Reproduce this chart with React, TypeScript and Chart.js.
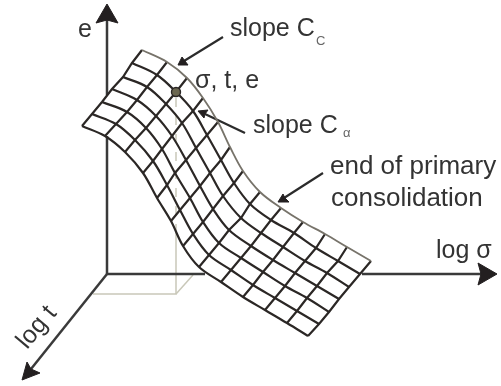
import React, { useEffect, useRef } from "react";
import { Chart, registerables } from "chart.js";

Chart.register(...registerables);

type P = [number, number];

// Surface grid: each list is one constant-log-sigma line, back edge to front edge.
const crossLines: P[][] = [
  [[142, 50], [132, 63], [123, 77], [112, 89], [102, 102], [92, 114], [82, 126]],
  [[167, 62], [157, 75], [147, 87], [137, 100], [127, 112], [116, 124], [105, 136]],
  [[187, 78], [176, 92], [166, 104], [156, 116], [146, 128], [135, 140], [125, 152]],
  [[203, 98], [193, 111], [182, 123], [172, 136], [162, 149], [153, 161], [143, 173]],
  [[218, 122], [207, 135], [196, 148], [186, 160], [175, 173], [167, 185], [157, 198]],
  [[230, 147], [221, 160], [210, 173], [200, 186], [190, 198], [180, 210], [171, 221]],
  [[243, 171], [234, 183], [223, 196], [213, 209], [203, 222], [193, 234], [183, 246]],
  [[260, 192], [250, 204], [241, 218], [229, 230], [219, 243], [209, 255], [199, 267]],
  [[281, 208], [271, 220], [261, 233], [251, 246], [241, 258], [231, 270], [221, 282]],
  [[303, 222], [294, 233], [283, 247], [273, 260], [263, 272], [253, 285], [243, 297]],
  [[325, 234], [316, 248], [305, 261], [295, 273], [285, 286], [275, 298], [265, 310]],
  [[347, 247], [338, 261], [327, 273], [317, 286], [307, 298], [297, 311], [287, 323]],
  [[371, 261], [360, 274], [349, 287], [339, 299], [329, 312], [319, 324], [308, 336]],
];

const axisLines: P[][] = [
  [[107, 20], [107, 95]],
  [[107, 136], [107, 274]],
  [[107, 274], [205, 274]],
  [[362, 274], [482, 274]],
  [[107, 274], [31, 369]],
];
const axisHeads: P[][] = [
  [[107, 4], [118, 23], [107, 20], [96, 23]],
  [[497, 274], [478, 285], [481, 274], [478, 263]],
  [[22, 380], [40, 373], [31, 369], [27, 362]],
];
const leaderLines: P[][] = [
  [[223, 37], [184, 61]],
  [[245, 133], [205, 114]],
  [[323, 173], [284, 198]],
];
const leaderHeads: P[][] = [
  [[178, 65], [182, 57], [185, 61], [188, 65]],
  [[198, 111], [208, 110], [205, 114], [204, 118]],
  [[278, 202], [283, 194], [285, 198], [289, 202]],
];
const guideSolid: P[][] = [
  [[176, 225], [176, 294], [93, 294]],
  [[176, 294], [193, 275]],
];
const guideDashed: P[] = [[176, 98], [176, 225]];
const stateMarker: P[] = [[176, 92]];

const textLabels = ["e", "slope C", "C", "\u03c3, t, e", "slope C", "\u03b1", "end of primary", "consolidation", "log \u03c3", "log t"];
const textAnchors: P[] = [[78, 37], [230, 36], [316, 45], [195, 88], [253, 133], [343, 137], [330, 174], [331, 206], [436, 258], [27, 350]];
const textSizes = [25, 25, 13, 25, 25, 13, 26, 26, 25, 25];
const textTurns = [0, 0, 0, 0, 0, 0, 0, 0, 0, -50];

const toXY = (pts: P[]) => pts.map(([x, y]) => ({ x, y }));
const ink = "#2b2725";
const edge = "#77736a";
const guide = "#c9c8b9";

const textPlugin = {
  id: "diagramText",
  afterDatasetsDraw(chart: any) {
    const { ctx, scales } = chart;
    textLabels.forEach((label, i) => {
      const [x, y] = textAnchors[i];
      ctx.save();
      ctx.translate(scales.x.getPixelForValue(x), scales.y.getPixelForValue(y));
      ctx.rotate((textTurns[i] * Math.PI) / 180);
      ctx.font = `${textSizes[i]}px "Liberation Sans"`;
      ctx.fillStyle = textSizes[i] < 20 ? "#666" : "#333";
      ctx.textBaseline = "alphabetic";
      ctx.fillText(label, 0, 0);
      ctx.restore();
    });
  },
};

export default function App() {
  const ref = useRef<HTMLCanvasElement>(null);
  useEffect(() => {
    const line = (pts: P[], color: string, width: number, order: number, extra: any = {}) => ({
      data: toXY(pts),
      showLine: true,
      borderColor: color,
      borderWidth: width,
      pointRadius: 0,
      order,
      ...extra,
    });
    const head = (pts: P[], color: string) =>
      line([...pts, pts[0]], color, 1, 2, { fill: "shape", backgroundColor: color });
    const longLines = crossLines[0].map((_, r) => crossLines.map((c) => c[r]));
    const datasets: any[] = [
      ...guideSolid.map((p) => line(p, guide, 1.5, 6)),
      line(guideDashed, guide, 1.5, 6, { borderDash: [9, 9] }),
      ...axisLines.map((p) => line(p, "#3a3a3a", 2.5, 5)),
      ...axisHeads.map((p) => head(p, "#231f20")),
      ...leaderLines.map((p) => line(p, "#2b2b2b", 2.2, 3)),
      ...leaderHeads.map((p) => head(p, "#231f20")),
      ...crossLines.map((p) => line(p, ink, 2.2, 2)),
      ...longLines.map((p, r) => line(p, r === 0 ? edge : ink, r === 0 ? 1.8 : 2.2, 1, { tension: 0.35 })),
      {
        data: toXY(stateMarker),
        pointRadius: 4.5,
        pointBackgroundColor: "#6b6750",
        pointBorderColor: "#2b2725",
        pointBorderWidth: 1.4,
        order: 0,
      },
    ];
    const chart = new Chart(ref.current!, {
      type: "scatter",
      data: { datasets },
      plugins: [textPlugin],
      options: {
        animation: false,
        responsive: false,
        layout: { padding: 0, autoPadding: false },
        plugins: { legend: { display: false }, tooltip: { enabled: false } },
        scales: {
          x: { type: "linear", min: 0, max: 501, display: false },
          y: { type: "linear", min: 0, max: 386, reverse: true, display: false },
        },
      },
    });
    return () => chart.destroy();
  }, []);
  return (
    <div style={{ position: "absolute", left: 0, top: 0, width: 501, height: 386, background: "#fff" }}>
      <canvas ref={ref} width={501} height={386} style={{ display: "block" }} />
    </div>
  );
}
